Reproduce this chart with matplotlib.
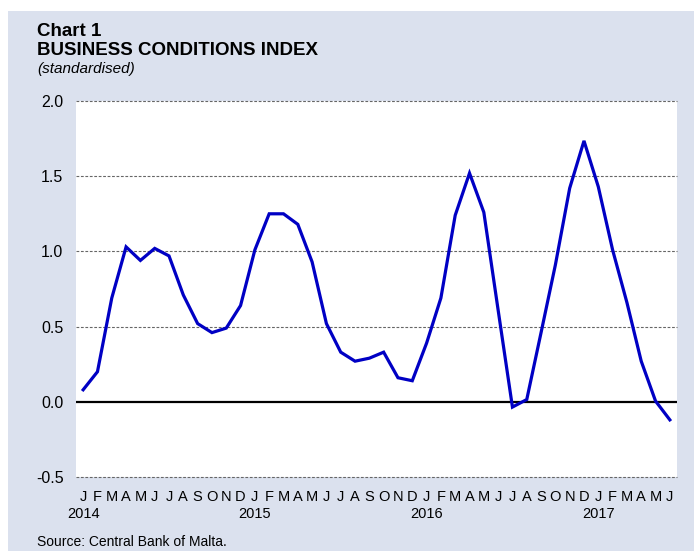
import matplotlib
matplotlib.use('Agg')
import matplotlib.pyplot as plt
from matplotlib.patches import Rectangle

plt.rcParams['font.family'] = ['Liberation Sans', 'DejaVu Sans']

# monthly index, Jan 2014 - Jun 2017
values = [0.08, 0.20, 0.69, 1.03, 0.94, 1.02, 0.97, 0.71, 0.52, 0.46, 0.49, 0.64,
          1.01, 1.25, 1.25, 1.18, 0.93, 0.52, 0.33, 0.27, 0.29, 0.33, 0.16, 0.14,
          0.39, 0.69, 1.24, 1.52, 1.26, 0.61, -0.035, 0.015, 0.46, 0.91, 1.42, 1.735,
          1.43, 1.01, 0.66, 0.27, 0.005, -0.12]
month_letters = ['J', 'F', 'M', 'A', 'M', 'J', 'J', 'A', 'S', 'O', 'N', 'D']
years = ['2014', '2015', '2016', '2017']
yticks = [-0.5, 0.0, 0.5, 1.0, 1.5, 2.0]

bg = '#dbe1ee'
fig = plt.figure(figsize=(6.94, 5.51), dpi=100)
fig.patches.append(Rectangle((8 / 694, 0), 1, 540 / 551, transform=fig.transFigure,
                             facecolor=bg, edgecolor='none', zorder=-10))

ax = fig.add_axes([76 / 694, 74 / 551, 601 / 694, 376 / 551])
ax.set_facecolor('white')
x = list(range(len(values)))
ax.plot(x, values, color='#0000c4', lw=2.3, zorder=3, solid_joinstyle='miter')
ax.axhline(0, color='black', lw=1.6, zorder=2)
for y in yticks:
    if y != 0:
        ax.axhline(y, color='#666666', lw=0.8, ls=(0, (2.5, 1.5)), zorder=1, clip_on=False)

ax.set_xlim(-0.5, len(values) - 0.5)
ax.set_ylim(-0.5, 2.0)
ax.set_yticks(yticks)
ax.set_yticklabels(['%.1f' % y for y in yticks], fontsize=11.5)
ax.tick_params(axis='y', length=0, pad=9)
ax.set_xticks([])
for s in ax.spines.values():
    s.set_visible(False)

# month letters and year labels
for i in x:
    ax.text(i, -0.633, month_letters[i % 12], ha='center', va='center', fontsize=10.5,
            clip_on=False)
for k, yr in enumerate(years):
    ax.text(12 * k, -0.745, yr, ha='center', va='center', fontsize=10.5, clip_on=False)

fig.text(37 / 694, 1 - 31 / 551, 'Chart 1', fontsize=13.5, fontweight='bold', va='center')
fig.text(37 / 694, 1 - 50.5 / 551, 'BUSINESS CONDITIONS INDEX', fontsize=13.5, fontweight='bold', va='center')
fig.text(37 / 694, 1 - 69 / 551, '(standardised)', fontsize=11, style='italic', va='center')
fig.text(37 / 694, 1 - 542 / 551, 'Source: Central Bank of Malta.', fontsize=10, va='center')

fig.savefig('out.png', dpi=100, facecolor='white')
